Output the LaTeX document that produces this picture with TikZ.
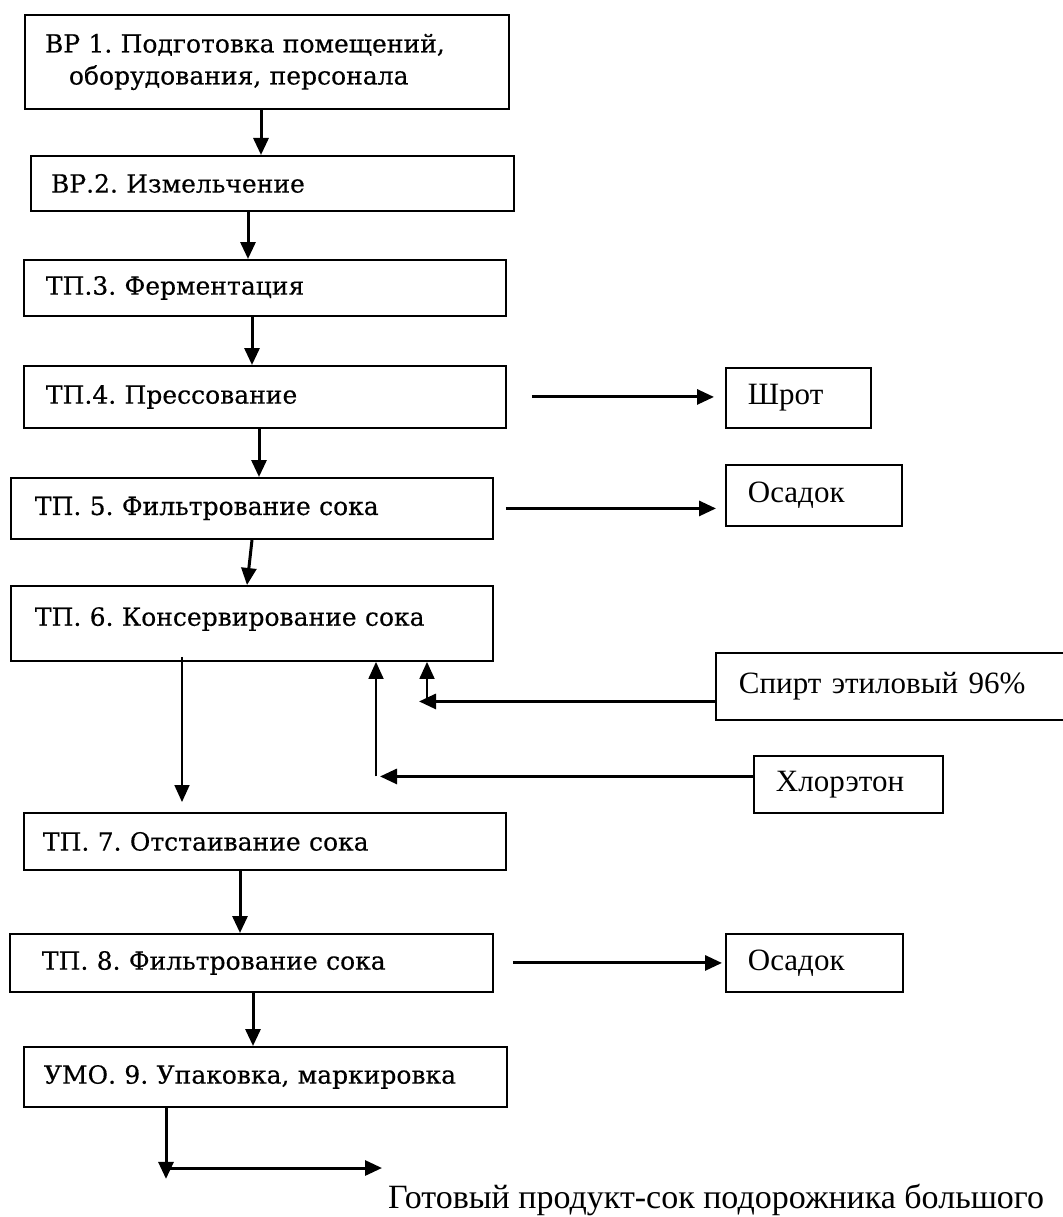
\documentclass[tikz,border=0pt]{standalone}
\usepackage{fontspec}
\setmainfont{DejaVu Serif}[FakeBold=0.35]
\newfontfamily\tms{Liberation Serif}
\usetikzlibrary{arrows.meta}
\frenchspacing
\begin{document}
\begin{tikzpicture}[x=1pt,y=-1pt,
  box/.style={draw, line width=1.9pt, inner sep=0pt, anchor=north west, align=left,
    font=\fontsize{25}{32}\selectfont},
  sbox/.style={draw, line width=1.9pt, inner sep=0pt, anchor=north west, align=left,
    font=\tms\fontsize{31}{36}\selectfont},
  arr/.style={line width=3pt, -{Triangle[length=17pt,width=15pt]}},
  thinarr/.style={line width=1.8pt, -{Triangle[length=17pt,width=15pt]}},
  plain/.style={inner sep=0pt, font=\tms\fontsize{34}{40}\selectfont}
]
\useasboundingbox (0,0) rectangle (1062,1217);
\fill[white] (0,0) rectangle (1062,1217);

% main boxes
\node[box, minimum width=484pt, minimum height=94pt, text width=444pt] (b1) at (24,14)
  {ВР 1. Подготовка помещений,\\\hspace*{24pt}оборудования, персонала};
\node[box, minimum width=483pt, minimum height=55pt, text width=443pt] (b2) at (30,155) {ВР.2. Измельчение};
\node[box, minimum width=482pt, minimum height=56pt, text width=438pt] (b3) at (23,259) {ТП.3. Ферментация};
\node[box, minimum width=482pt, minimum height=62pt, text width=438pt] (b4) at (23,365) {ТП.4. Прессование};
\node[box, minimum width=482pt, minimum height=61pt, text width=434pt] (b5) at (10,477) {ТП. 5. Фильтрование сока};
\node[box, minimum width=482pt, minimum height=75pt, text width=434pt, text depth=14pt] (b6) at (10,585) {ТП. 6. Консервирование сока};
\node[box, minimum width=482pt, minimum height=57pt, text width=444pt] (b7) at (23,812) {ТП. 7. Отстаивание сока};
\node[box, minimum width=483pt, minimum height=58pt, text width=419pt] (b8) at (9,933) {ТП. 8. Фильтрование сока};
\node[box, minimum width=483pt, minimum height=60pt, text width=443pt] (b9) at (23,1046) {УМО. 9. Упаковка, маркировка};

% side boxes
\node[sbox, minimum width=145pt, minimum height=60pt, text width=101pt] (s1) at (725,367) {Шрот};
\node[sbox, minimum width=176pt, minimum height=61pt, text width=132pt] (s2) at (725,464) {Осадок};
\node[sbox, minimum width=360pt, minimum height=67pt, text width=314pt] (s3) at (715,652) {Спирт этиловый 96\%};
\node[sbox, minimum width=189pt, minimum height=57pt, text width=145pt] (s4) at (753,755) {Хлорэтон};
\node[sbox, minimum width=177pt, minimum height=58pt, text width=133pt] (s5) at (725,933) {Осадок};

\node[plain, anchor=base west] (out) at (388,1208) {Готовый продукт-сок подорожника большого};

% vertical flow
\coordinate (c1) at ([xshift=237pt]b1.south west);
\draw[arr] (c1) -- (c1 |- b2.north);
\coordinate (c2) at ([xshift=218pt]b2.south west);
\draw[arr] (c2) -- (c2 |- b3.north);
\coordinate (c3) at ([xshift=229pt]b3.south west);
\draw[arr] (c3) -- (c3 |- b4.north);
\coordinate (c4) at ([xshift=236pt]b4.south west);
\draw[arr] (c4) -- (c4 |- b5.north);
\draw[arr] ([xshift=242pt]b5.south west) -- ([xshift=237pt]b6.north west);
\coordinate (c6) at ([xshift=172pt,yshift=5pt]b6.south west);
\path (c6 |- b7.north) coordinate (t6);
\draw[thinarr] (c6) -- ([yshift=10pt]t6);
\coordinate (c7) at ([xshift=217pt]b7.south west);
\draw[arr] (c7) -- (c7 |- b8.north);
\coordinate (c8) at ([xshift=244pt]b8.south west);
\draw[arr] (c8) -- (c8 |- b9.north);
\coordinate (c9) at ([xshift=143pt]b9.south west);
\coordinate (c9b) at ([yshift=-71pt]c9);
\draw[arr] (c9) -- (c9b);
\coordinate (e9) at (382,1168);
\draw[arr] (c9b |- e9) ++(4,0) -- (e9);

% side outputs
\path (b4.east -| s1.west) coordinate (t4);
\draw[arr] ([xshift=25pt]b4.east) -- ([xshift=-11pt]t4);
\path (b5.east -| s2.west) coordinate (t5);
\draw[arr] ([xshift=12pt]b5.east) -- ([xshift=-9pt]t5);
\path (b8.east -| s5.west) coordinate (t8);
\draw[arr] ([xshift=19pt]b8.east) -- ([xshift=-3pt]t8);

% additives into b6
\coordinate (sp) at ([yshift=-15pt]s3.west);
\coordinate (sv) at ([xshift=417pt]b6.south west);
\draw[arr] (sp) -- ([xshift=-8pt]sp -| sv);
\draw[thinarr] (sv |- sp) -- (sv);
\coordinate (hl) at ([yshift=8pt]s4.west);
\coordinate (hv) at ([xshift=366pt]b6.south west);
\draw[arr] (hl) -- ([xshift=4pt]hl -| hv);
\draw[thinarr] (hv |- hl) -- (hv);
\end{tikzpicture}
\end{document}
